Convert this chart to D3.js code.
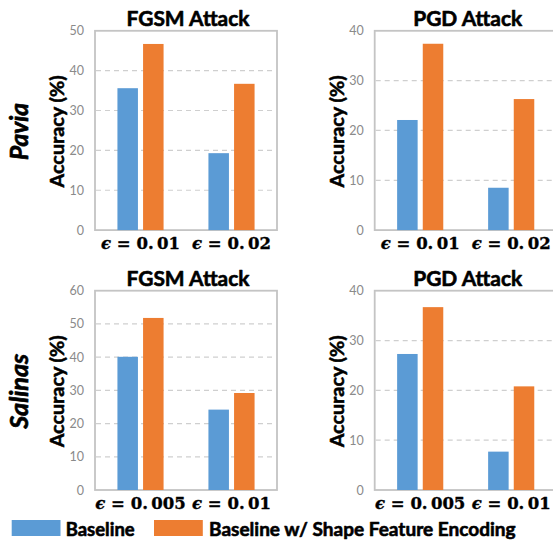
<!DOCTYPE html>
<html><head><meta charset="utf-8">
<script src="https://cdn.jsdelivr.net/npm/d3@7"></script>
<style>body{margin:0;background:#fff}svg{display:block}</style>
</head><body>
<svg id="c" width="553" height="542"></svg>
<script>
const series = ["Baseline", "Baseline w/ Shape Feature Encoding"];
const colors = ["#5B9BD5", "#ED7D31"];
const datasets = ["Pavia", "Salinas"];
const attacks = ["FGSM Attack", "PGD Attack"];
const paviaEps = ["0.01", "0.02"];
const salinasEps = ["0.005", "0.01"];
const paviaFGSMBaseline = [35.6, 19.3];
const paviaFGSMShape = [46.7, 36.7];
const paviaPGDBaseline = [22.1, 8.5];
const paviaPGDShape = [37.4, 26.3];
const salinasFGSMBaseline = [40.1, 24.2];
const salinasFGSMShape = [51.8, 29.2];
const salinasPGDBaseline = [27.3, 7.7];
const salinasPGDShape = [36.7, 20.8];
const yMax = [[50, 40], [60, 40]];
const yLabel = "Accuracy (%)";

const panels = [
  {row:0, col:0, cats:paviaEps, vals:[paviaFGSMBaseline, paviaFGSMShape]},
  {row:0, col:1, cats:paviaEps, vals:[paviaPGDBaseline, paviaPGDShape]},
  {row:1, col:0, cats:salinasEps, vals:[salinasFGSMBaseline, salinasFGSMShape]},
  {row:1, col:1, cats:salinasEps, vals:[salinasPGDBaseline, salinasPGDShape]}
];

const svg = d3.select("#c");
const W = 182, H = 199.3;
const lefts = [95, 374.7], tops = [30.8, 290.7];
const font = "Lato, 'Open Sans', sans-serif";
const serif = "'DejaVu Serif', 'Liberation Serif', serif";

function fit(sel, width) {
  sel.each(function() {
    const fs = parseFloat(this.getAttribute("font-size"));
    const len = this.getComputedTextLength();
    if (len > 0) this.setAttribute("font-size", (fs * width / len).toFixed(2));
  });
  return sel;
}
function heavy(sel, w) {
  return sel.attr("fill", "#000").attr("stroke", "#000").attr("stroke-width", w).attr("stroke-linejoin", "round");
}

panels.forEach(p => {
  const x0 = lefts[p.col], y0 = tops[p.row];
  const g = svg.append("g").attr("transform", `translate(${x0},${y0})`);
  const ymax = yMax[p.row][p.col];
  const y = d3.scaleLinear().domain([0, ymax]).range([H, 0]);
  const x = d3.scaleBand().domain(p.cats).range([0, W]).padding(0);
  const x1 = d3.scaleBand().domain(series).range([0, x.bandwidth()]).paddingInner(0.2).paddingOuter(0.875);
  const ticks = d3.range(0, ymax + 1, 10);
  g.selectAll("line.grid").data(ticks.filter(t => t > 0 && t < ymax)).join("line")
    .attr("x1", 1).attr("x2", W - 1).attr("y1", d => y(d)).attr("y2", d => y(d))
    .attr("stroke", "#cfcfcf").attr("stroke-width", 1.2).attr("stroke-dasharray", "5,4");
  g.append("rect").attr("x", 0).attr("y", 0).attr("width", W).attr("height", H)
    .attr("fill", "none").attr("stroke", "#c4c4c4").attr("stroke-width", 1.8);
  p.cats.forEach((c, ci) => {
    series.forEach((s, si) => {
      g.append("rect")
        .attr("x", x(c) + x1(s)).attr("width", x1.bandwidth())
        .attr("y", y(p.vals[si][ci])).attr("height", H - y(p.vals[si][ci]))
        .attr("fill", colors[si]);
    });
  });
  const ax = g.append("g").attr("transform", "translate(-7,0)")
    .call(d3.axisLeft(y).tickValues(ticks).tickSize(0).tickPadding(4).tickFormat(d3.format("d")));
  ax.select(".domain").remove();
  ax.selectAll("text").attr("fill", "#8a8a8a").attr("font-size", 12.5).attr("font-family", font);
  const xl = g.selectAll("text.xl").data(p.cats).join("text").attr("class", "xl")
    .attr("x", d => x(d) + x.bandwidth() / 2).attr("y", H + 19)
    .attr("text-anchor", "middle").attr("font-family", serif)
    .attr("font-weight", "bold").attr("font-size", 16.5);
  heavy(xl, 0.35);
  xl.append("tspan").attr("font-style", "italic").text("ϵ");
  xl.append("tspan").text(d => " = " + d.replace(".", ".\u2009"));
  const t = g.append("text").attr("x", W / 2 + 2).attr("y", -5).attr("text-anchor", "middle")
    .attr("font-family", font).attr("font-weight", "bold").attr("font-size", 20)
    .text(attacks[p.col]);
  heavy(t, 0.6);
  fit(t, p.col === 0 ? 123 : 109);
  const yl = g.append("text").attr("transform", `translate(${-31},${H / 2 + 1}) rotate(-90)`)
    .attr("text-anchor", "middle").attr("font-family", font).attr("font-weight", "bold")
    .attr("font-size", 18).text(yLabel);
  heavy(yl, 0.55);
  fit(yl, 112);
});

datasets.forEach((d, i) => {
  const t = svg.append("text").attr("transform", `translate(28,${tops[i] + H / 2 + 1}) rotate(-90)`)
    .attr("text-anchor", "middle").attr("font-family", font).attr("font-weight", "bold")
    .attr("font-style", "italic").attr("font-size", 25).text(d);
  heavy(t, 0.7);
  fit(t, i === 0 ? 57 : 75);
});

const legX = [11.7, 154], legTX = [65.7, 209], legW = [69, 307];
series.forEach((s, i) => {
  svg.append("rect").attr("x", legX[i]).attr("y", 520).attr("width", 48.8).attr("height", 16).attr("fill", colors[i]);
  const t = svg.append("text").attr("x", legTX[i]).attr("y", 536).attr("font-family", font)
    .attr("font-weight", "bold").attr("font-size", 20).text(s);
  heavy(t, 0.6);
  fit(t, legW[i]);
});
</script>
</body></html>
